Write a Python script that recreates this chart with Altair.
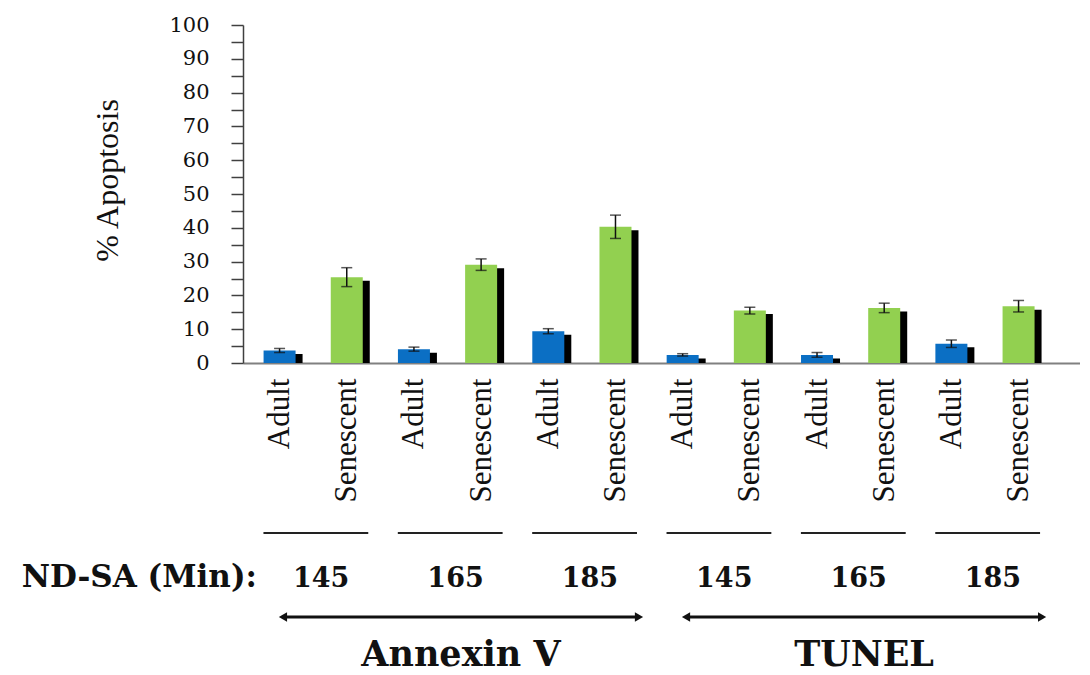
import altair as alt
import pandas as pd

# ---- data ----
cells = ["Adult", "Senescent"] * 6
assays = ["Annexin V"] * 6 + ["TUNEL"] * 6
nd_sa = [145, 145, 165, 165, 185, 185, 145, 145, 165, 165, 185, 185]
apoptosis = [3.7, 25.4, 4.1, 29.1, 9.4, 40.3, 2.4, 15.5, 2.4, 16.3, 5.7, 16.8]
sem = [0.6, 2.8, 0.6, 1.7, 0.75, 3.45, 0.35, 1.0, 0.7, 1.4, 1.1, 1.7]
y_ticks = list(range(0, 101, 5))
assay_names = ["Annexin V", "TUNEL"]
row_title = "ND-SA (Min):"

cell_colors = {"Adult": "#0B6FC4", "Senescent": "#92D050"}

df = pd.DataFrame({
    "pos": list(range(len(cells))),
    "cell": cells,
    "assay": assays,
    "nd": nd_sa,
    "val": apoptosis,
    "err": sem,
})
df["lo"] = df["val"] - df["err"]
df["hi"] = df["val"] + df["err"]

# one row per Adult/Senescent pair
pairs = df.groupby(["assay", "nd"], sort=False).agg(first=("pos", "min"), last=("pos", "max")).reset_index()
pairs["center"] = (pairs["first"] + pairs["last"]) / 2
pairs["seg0"] = pairs["center"] - 0.74
pairs["seg1"] = pairs["center"] + 0.82
pairs["label"] = pairs["nd"].astype(str)

# one row per assay
groups = df.groupby("assay", sort=False).agg(first=("pos", "min"), last=("pos", "max")).reset_index()
groups["a0"] = groups["first"] + 0.05
groups["a1"] = groups["last"] + 0.35
groups["mid"] = (groups["a0"] + groups["a1"]) / 2

label_expr = "[" + ",".join("'" + c + "'" for c in cells) + "][datum.value]"

xscale = alt.Scale(domain=[-0.47, 11.84], nice=False, zero=False)
yscale = alt.Scale(domain=[0, 100], nice=False)

x_axis = alt.Axis(
    values=list(range(len(cells))), labelExpr=label_expr, labelAngle=270,
    labelFont="Liberation Serif", labelFontSize=31, labelColor="#111111",
    labelPadding=15, ticks=False, grid=False, title=None,
    domainColor="#808080", domainWidth=2, labelOverlap=False, labelFlush=False,
)
y_axis = alt.Axis(
    values=y_ticks, labelExpr="datum.value % 10 == 0 ? datum.label : ''",
    labelFont="DejaVu Serif", labelFontSize=21, labelColor="#111111",
    labelPadding=22, tickSize=12, tickColor="#404040", tickWidth=1.5,
    domainColor="#404040", domainWidth=1.5, grid=False, labelOverlap=False,
    title="% Apoptosis", titleFont="Liberation Serif", titleFontSize=32,
    titleFontWeight="normal", titleColor="#111111", titlePadding=44, titleY=155,
)

base = alt.Chart(df)

X = alt.X("pos:Q", scale=xscale, axis=x_axis)

shadow = base.mark_bar(width=32, color="black", xOffset=7, yOffset=3.5, y2Offset=3.5).encode(
    x=X,
    y=alt.Y("val:Q", scale=yscale, axis=y_axis, stack=None),
)

bars = base.mark_bar(width=32).encode(
    x=X,
    y=alt.Y("val:Q", scale=yscale, axis=y_axis, stack=None),
    color=alt.Color("cell:N", scale=alt.Scale(domain=list(cell_colors), range=list(cell_colors.values())), legend=None),
)

err_line = base.mark_rule(color="#111111", strokeWidth=1.5).encode(
    x=X, y=alt.Y("lo:Q", scale=yscale, axis=y_axis), y2="hi:Q"
)
cap_lo = base.mark_tick(orient="horizontal", size=11, thickness=1.5, color="#111111").encode(
    x=X, y=alt.Y("lo:Q", scale=yscale, axis=y_axis)
)
cap_hi = base.mark_tick(orient="horizontal", size=11, thickness=1.5, color="#111111").encode(
    x=X, y=alt.Y("hi:Q", scale=yscale, axis=y_axis)
)

pc = alt.Chart(pairs)
underline = pc.mark_rule(color="#222222", strokeWidth=2).encode(
    x=alt.X("seg0:Q", scale=xscale, axis=x_axis), x2="seg1:Q", y=alt.value(508)
)
nd_text = pc.mark_text(font="DejaVu Serif", fontWeight="bold", fontSize=27, color="#111111",
                       baseline="alphabetic", xOffset=8).encode(
    x=alt.X("center:Q", scale=xscale, axis=x_axis), y=alt.value(562), text="label:N"
)

gc = alt.Chart(groups)
arrow_line = gc.mark_rule(color="#111111", strokeWidth=3).encode(
    x=alt.X("a0:Q", scale=xscale, axis=x_axis), x2="a1:Q", y=alt.value(592)
)
head_l = gc.mark_point(shape="triangle-left", filled=True, size=90, color="#111111", opacity=1).encode(
    x=alt.X("a0:Q", scale=xscale, axis=x_axis), y=alt.value(592)
)
head_r = gc.mark_point(shape="triangle-right", filled=True, size=90, color="#111111", opacity=1).encode(
    x=alt.X("a1:Q", scale=xscale, axis=x_axis), y=alt.value(592)
)
assay_text = gc.mark_text(font="DejaVu Serif", fontWeight="bold", fontSize=35, color="#111111",
                          baseline="alphabetic").encode(
    x=alt.X("mid:Q", scale=xscale, axis=x_axis), y=alt.value(641), text="assay:N"
)

row_label = alt.Chart(pd.DataFrame({"t": [row_title]})).mark_text(
    font="DejaVu Serif", fontWeight="bold", fontSize=31, color="#111111",
    align="right", baseline="alphabetic"
).encode(x=alt.value(14), y=alt.value(562), text="t:N")

chart = alt.layer(
    shadow, bars, err_line, cap_lo, cap_hi,
    underline, nd_text, arrow_line, head_l, head_r, assay_text, row_label,
).properties(
    width=837, height=338,
    autosize=alt.AutoSizeParams(type="none"),
    padding={"left": 235, "top": 17, "right": 0, "bottom": 310},
    background="white",
).configure_view(stroke=None)

chart.save("out.html", embed_options={"renderer": "svg", "actions": False})
